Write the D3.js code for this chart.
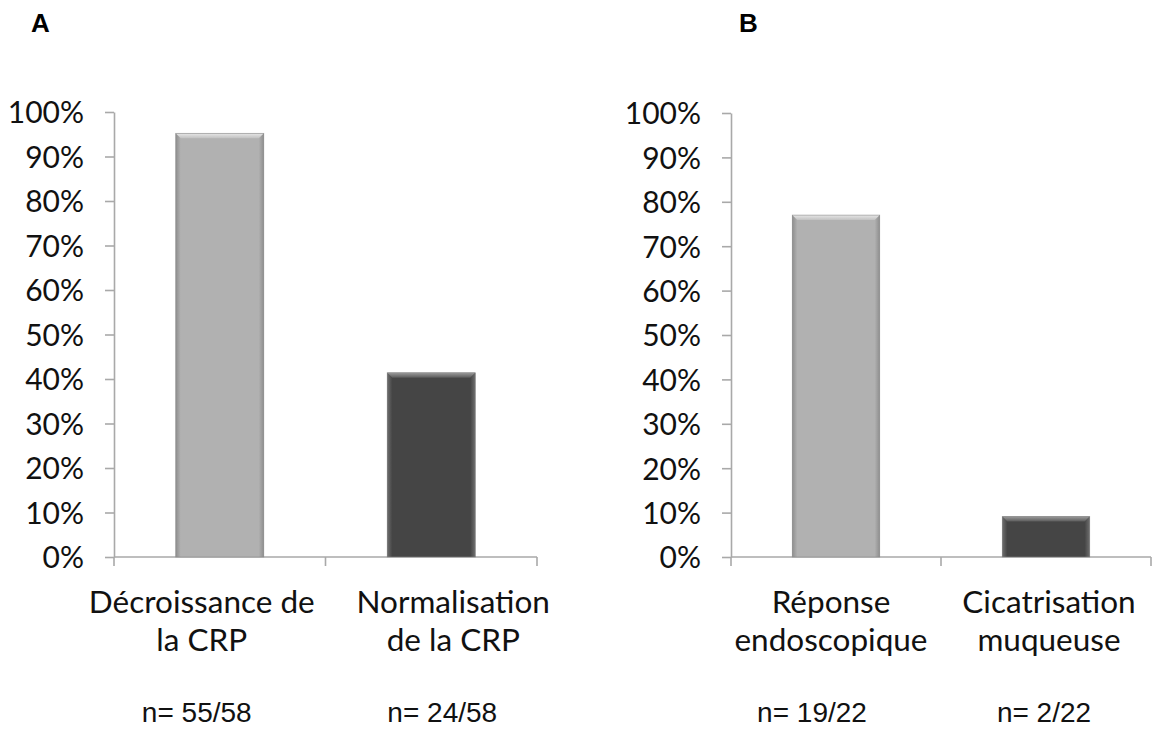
<!DOCTYPE html>
<html><head><meta charset="utf-8">
<script src="https://cdn.jsdelivr.net/npm/d3@7"></script>
<style>body{margin:0;background:#fff}svg{display:block}</style>
</head><body>
<svg id="c" width="1153" height="730"></svg>
<script>
const panelTitles = ["A", "B"];
const categoriesA = [["Décroissance de", "la CRP"], ["Normalisation", "de la CRP"]];
const categoriesB = [["Réponse", "endoscopique"], ["Cicatrisation", "muqueuse"]];
const valuesA = [95.2, 41.4];
const valuesB = [77.0, 9.1];
const countsA = ["n= 55/58", "n= 24/58"];
const countsB = ["n= 19/22", "n= 2/22"];
const yTicks = [0, 10, 20, 30, 40, 50, 60, 70, 80, 90, 100];

const svg = d3.select("#c");
const defs = svg.append("defs");
const styles = [
  {fill:"#b1b1b1", top:["#e6e6e6","#c0c0c0"], side:"#8e8e8e"},
  {fill:"#454545", top:["#9a9a9a","#5a5a5a"], side:"#6e6e6e"}
];
styles.forEach((s,i)=>{
  const g = defs.append("linearGradient").attr("id","top"+i).attr("x1",0).attr("y1",0).attr("x2",0).attr("y2",1);
  g.append("stop").attr("offset","0%").attr("stop-color",s.top[0]);
  g.append("stop").attr("offset","100%").attr("stop-color",s.top[1]);
  const l = defs.append("linearGradient").attr("id","l"+i).attr("x1",0).attr("x2",1).attr("y1",0).attr("y2",0);
  l.append("stop").attr("offset","0%").attr("stop-color",s.side);
  l.append("stop").attr("offset","100%").attr("stop-color",s.fill);
  const r = defs.append("linearGradient").attr("id","r"+i).attr("x1",0).attr("x2",1).attr("y1",0).attr("y2",0);
  r.append("stop").attr("offset","0%").attr("stop-color",s.fill);
  r.append("stop").attr("offset","100%").attr("stop-color",s.side);
});

const labelFont = "Lato, 'Open Sans', sans-serif";
const countFont = "'Liberation Sans', Arial, sans-serif";

function panel(cfg){
  const {x0,x1,y0,y1,cats,vals,counts,title,titleX,labelShift,countShift} = cfg;
  const g = svg.append("g");
  const x = d3.scaleBand().domain(d3.range(cats.length)).range([x0,x1]).paddingInner(0.584).paddingOuter(0.292);
  const y = d3.scaleLinear().domain([0,100]).range([y1,y0]);
  const axisColor = "#a9a9a9";

  const ya = g.append("g").attr("transform",`translate(${x0},0)`)
    .call(d3.axisLeft(y).tickValues(yTicks).tickFormat(d=>d+"%").tickSize(9).tickPadding(21).tickSizeOuter(0));
  ya.select(".domain").attr("stroke",axisColor).attr("stroke-width",1.6);
  ya.selectAll(".tick line").attr("stroke",axisColor).attr("stroke-width",1.6);
  ya.selectAll(".tick text").attr("font-family",labelFont).attr("font-size",30).attr("fill","#111").attr("dy","0.36em");

  const step = x.step();
  const bounds = d3.range(cats.length+1).map(i=>x0 + i*step);
  g.append("line").attr("x1",x0).attr("x2",x1).attr("y1",y1).attr("y2",y1).attr("stroke",axisColor).attr("stroke-width",1.6);
  g.selectAll(".xt").data(bounds).join("line").attr("x1",d=>d).attr("x2",d=>d).attr("y1",y1).attr("y2",y1+9).attr("stroke",axisColor).attr("stroke-width",1.6);

  vals.forEach((v,i)=>{
    const bx = x(i), bw = x.bandwidth(), by = y(v), bh = y1 - y(v);
    const b = 5;
    g.append("rect").attr("x",bx).attr("y",by).attr("width",bw).attr("height",bh).attr("fill",styles[i].fill);
    g.append("polygon").attr("points",[[bx,by],[bx+b,by+b],[bx+b,y1],[bx,y1]].join(" ")).attr("fill",`url(#l${i})`);
    g.append("polygon").attr("points",[[bx+bw,by],[bx+bw-b,by+b],[bx+bw-b,y1],[bx+bw,y1]].join(" ")).attr("fill",`url(#r${i})`);
    g.append("polygon").attr("points",[[bx,by],[bx+bw,by],[bx+bw-b,by+b],[bx+b,by+b]].join(" ")).attr("fill",`url(#top${i})`);
    g.append("rect").attr("x",bx).attr("y",by).attr("width",bw).attr("height",bh).attr("fill","none").attr("stroke","#888").attr("stroke-width",0.8).attr("stroke-opacity",0.7);
  });

  cats.forEach((lines,i)=>{
    const cx = x(i) + x.bandwidth()/2;
    const t = g.append("text").attr("text-anchor","middle").attr("font-family",labelFont).attr("font-size",31.5).attr("fill","#111");
    lines.forEach((ln,j)=>t.append("tspan").attr("x",cx + labelShift[i]).attr("y",613 + j*38).text(ln));
    g.append("text").attr("x",cx + countShift[i]).attr("y",722).attr("text-anchor","middle").attr("font-family",countFont).attr("font-size",28).attr("fill","#111").text(counts[i]);
  });

  svg.append("text").attr("x",titleX).attr("y",32).attr("font-family",countFont).attr("font-weight","bold").attr("font-size",26).attr("fill","#000").text(title);
}

panel({x0:114,x1:537,y0:112,y1:557,cats:categoriesA,vals:valuesA,counts:countsA,title:panelTitles[0],titleX:31,labelShift:[-18,22],countShift:[-23,11]});
panel({x0:731,x1:1151,y0:113,y1:557,cats:categoriesB,vals:valuesB,counts:countsB,title:panelTitles[1],titleX:739,labelShift:[-5,3],countShift:[-24,-2]});
</script>
</body></html>
